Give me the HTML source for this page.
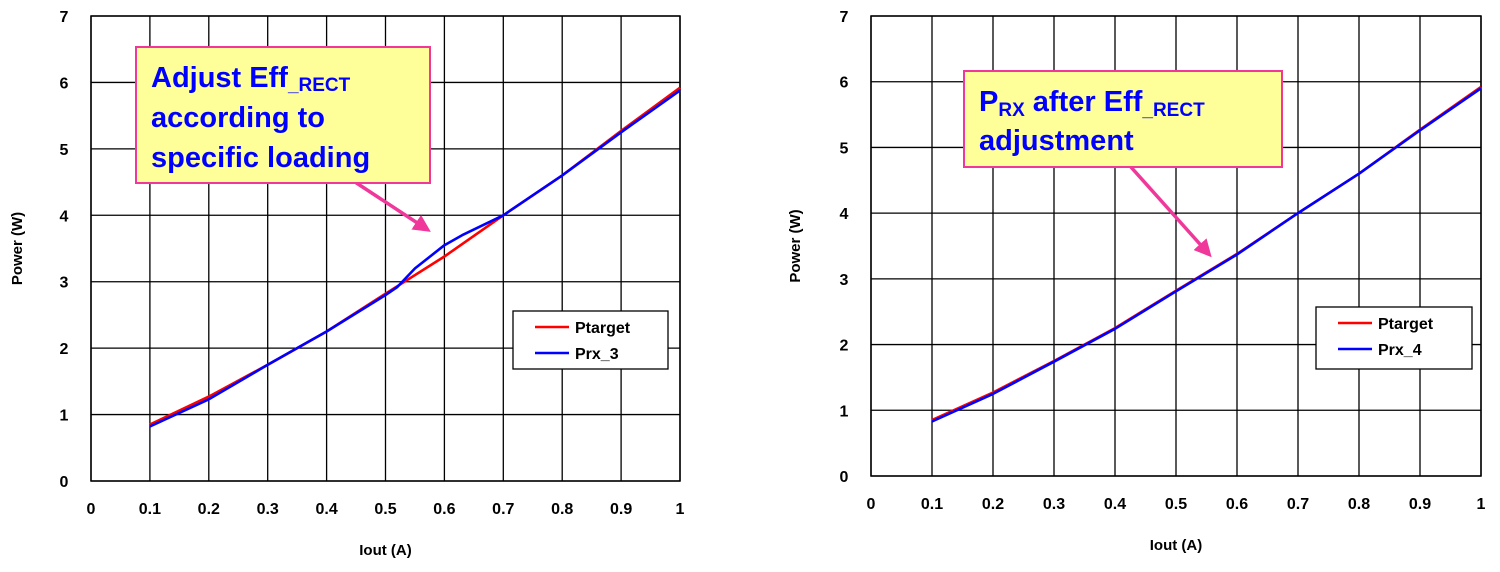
<!DOCTYPE html>
<html><head><meta charset="utf-8"><style>
html,body{margin:0;padding:0;background:#fff;}
svg text{font-family:"Liberation Sans",Arial,sans-serif;font-weight:bold;}
</style></head><body>
<svg id="chart" width="1500" height="567" viewBox="0 0 1500 567" xmlns="http://www.w3.org/2000/svg">
</svg>
<script>
const xTicks=[0,0.1,0.2,0.3,0.4,0.5,0.6,0.7,0.8,0.9,1];
const xTickLabels=["0","0.1","0.2","0.3","0.4","0.5","0.6","0.7","0.8","0.9","1"];
const yTicks=[0,1,2,3,4,5,6,7];
const xTarget=[0.1,0.2,0.3,0.4,0.5,0.6,0.7,0.8,0.9,1.0];
const pTarget=[0.85,1.27,1.75,2.25,2.82,3.38,4.0,4.6,5.27,5.92];
const xPrx3=[0.1,0.2,0.3,0.35,0.4,0.5,0.52,0.55,0.6,0.63,0.7,0.8,0.9,1.0];
const pPrx3=[0.82,1.23,1.75,2.0,2.25,2.8,2.92,3.2,3.55,3.7,4.0,4.6,5.25,5.88];
const xPrx4=[0.1,0.2,0.3,0.4,0.5,0.6,0.7,0.8,0.9,1.0];
const pPrx4=[0.83,1.25,1.74,2.24,2.81,3.37,4.0,4.6,5.26,5.9];

const NS="http://www.w3.org/2000/svg";
const svg=document.getElementById('chart');
function mk(tag,attrs,parent){const e=document.createElementNS(NS,tag);for(const k in attrs)e.setAttribute(k,attrs[k]);(parent||svg).appendChild(e);return e;}

function panel(cfg){
  const g=mk('g',{});
  
  
  const sx=v=>cfg.x0+(cfg.x1-cfg.x0)*v;
  const sy=v=>cfg.y0+(cfg.y1-cfg.y0)*v/7;
  const bg=mk('rect',{x:cfg.x0,y:cfg.y1,width:cfg.x1-cfg.x0,height:cfg.y0-cfg.y1,fill:'#fff',stroke:'#000','stroke-width':1.5},g);
  
  
  xTicks.forEach((t,i)=>{
    const l=mk('line',{x1:sx(t),x2:sx(t),y1:cfg.y1,y2:cfg.y0,stroke:'#000','stroke-width':1.3},g);
    
    
    const tx=mk('text',{x:sx(t),y:cfg.y0+33,'text-anchor':'middle','font-size':16,fill:'#000'},g);
    
    
    tx.textContent=xTickLabels[i];
  });
  yTicks.forEach(t=>{
    const l=mk('line',{x1:cfg.x0,x2:cfg.x1,y1:sy(t),y2:sy(t),stroke:'#000','stroke-width':1.3},g);
    
    
    const tx=mk('text',{x:cfg.x0-27,y:sy(t)+6,'text-anchor':'middle','font-size':16,fill:'#000'},g);
    
    
    tx.textContent=String(t);
  });
  const path=(xs,ys,color,name)=>{
    const d=xs.map((x,i)=>(i?'L':'M')+sx(x).toFixed(1)+','+sy(ys[i]).toFixed(1)).join(' ');
    const p=mk('path',{d:d,fill:'none',stroke:color,'stroke-width':2.6,'stroke-linejoin':'round'},g);
    
    
  };
  path(xTarget,pTarget,'#ff0000','ptarget-line');
  path(cfg.xs,cfg.ys,'#0000ff',cfg.seriesName+'-line');
  const yt=mk('text',{x:0,y:0,'text-anchor':'middle','font-size':15,fill:'#000',transform:`translate(${cfg.ytx},${(cfg.y0+cfg.y1)/2}) rotate(-90)`},g);
  
  
  yt.textContent='Power (W)';
  const xt=mk('text',{x:(cfg.x0+cfg.x1)/2,y:cfg.y0+74,'text-anchor':'middle','font-size':15,fill:'#000'},g);
  
  
  xt.textContent='Iout (A)';
  const L=cfg.leg;
  const lg=mk('g',{},g);
  
  
  mk('rect',{x:L[0],y:L[1],width:L[2],height:L[3],fill:'#fff',stroke:'#000','stroke-width':1.3},lg);
  const entries=[['Ptarget','#ff0000'],[cfg.seriesLabel,'#0000ff']];
  entries.forEach((e,i)=>{
    const yy=L[1]+16+i*26;
    const en=mk('g',{},lg);
    
    
    mk('line',{x1:L[0]+22,x2:L[0]+56,y1:yy,y2:yy,stroke:e[1],'stroke-width':2.6},en);
    const t=mk('text',{x:L[0]+62,y:yy+6,'font-size':16,fill:'#000'},en);
    t.textContent=e[0];
  });
}
panel({name:'left-chart',x0:91,x1:680,y0:481,y1:16,xs:xPrx3,ys:pPrx3,seriesName:'prx3',seriesLabel:'Prx_3',leg:[513,311,155,58],ytx:22});
panel({name:'right-chart',x0:871,x1:1481,y0:476,y1:16,xs:xPrx4,ys:pPrx4,seriesName:'prx4',seriesLabel:'Prx_4',leg:[1316,307,156,62],ytx:800});
</script>
<svg style="position:absolute;left:0;top:0" width="1500" height="567">
<defs><marker id="ah2" markerWidth="5" markerHeight="5" refX="3" refY="2.5" orient="auto"><path d="M0,0 L5,2.5 L0,5 Z" fill="#f0389a"/></marker></defs>
<line x1="355" y1="182" x2="425" y2="228" stroke="#f0389a" stroke-width="3.5" marker-end="url(#ah2)"/>
<line x1="1130" y1="166" x2="1207" y2="252" stroke="#f0389a" stroke-width="3.5" marker-end="url(#ah2)"/>
<g>
<rect x="136" y="47" width="294" height="136" fill="#ffff99" stroke="#f0389a" stroke-width="2"/>
<text x="151" y="87" font-size="29" fill="#0000ff" font-family="Liberation Sans, sans-serif" font-weight="bold">Adjust Eff<tspan font-size="19" dy="4">_RECT</tspan></text>
<text x="151" y="127" font-size="29" fill="#0000ff" font-family="Liberation Sans, sans-serif" font-weight="bold">according to</text>
<text x="151" y="167" font-size="29" fill="#0000ff" font-family="Liberation Sans, sans-serif" font-weight="bold">specific loading</text>
</g>
<g>
<rect x="964" y="71" width="318" height="96" fill="#ffff99" stroke="#f0389a" stroke-width="2"/>
<text x="979" y="111" font-size="29" fill="#0000ff" font-family="Liberation Sans, sans-serif" font-weight="bold">P<tspan font-size="19" dy="5">RX</tspan><tspan dy="-5"> after Eff</tspan><tspan font-size="19" dy="5">_RECT</tspan></text>
<text x="979" y="150" font-size="29" fill="#0000ff" font-family="Liberation Sans, sans-serif" font-weight="bold">adjustment</text>
</g>
</svg>
</body></html>
